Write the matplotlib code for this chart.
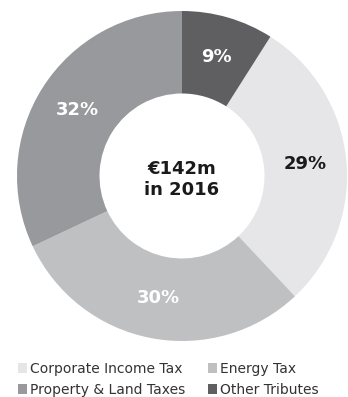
import matplotlib
matplotlib.use("Agg")
import matplotlib.pyplot as plt
from matplotlib.patches import Patch

categories = ["Corporate Income Tax", "Energy Tax", "Property & Land Taxes", "Other Tributes"]
shares = [29, 30, 32, 9]
colors = ["#e6e6e8", "#bfc0c2", "#98999c", "#5f5f62"]
label_colors = ["#1a1a1a", "white", "white", "white"]
center_text = "€142m\nin 2016"

plt.rcParams["font.family"] = ["DejaVu Sans"]

fig = plt.figure(figsize=(3.48, 3.97), dpi=100)
ax = fig.add_axes([17 / 348, 1 - 341 / 397, 330 / 348, 330 / 397])

start = 90 - shares[-1] / sum(shares) * 360
wedges, texts, autotexts = ax.pie(
    shares,
    colors=colors,
    startangle=start,
    counterclock=False,
    radius=1.0,
    wedgeprops=dict(width=0.5, edgecolor="none"),
    autopct=lambda p: f"{p:.0f}%",
    pctdistance=0.75,
    textprops=dict(fontsize=13, fontweight="bold"),
)
for t, c in zip(autotexts, label_colors):
    t.set_color(c)

ax.text(0, -0.02, center_text, ha="center", va="center", fontsize=13,
        fontweight="bold", color="#1a1a1a", linespacing=1.2)
ax.set_xlim(-1, 1)
ax.set_ylim(-1, 1)
ax.set_aspect("equal")
ax.axis("off")

# legend filled row by row: two entries per row
order = [0, 2, 1, 3]
handles = [Patch(facecolor=colors[i], edgecolor="none") for i in order]
labels = [categories[i] for i in order]
fig.legend(handles, labels, ncol=2, loc="upper left",
           bbox_to_anchor=(8 / 348, 1 - 352 / 397), frameon=False,
           fontsize=10, handlelength=0.7, handleheight=0.7, handletextpad=0.2,
           columnspacing=1.6, labelspacing=0.5, borderpad=0.2,
           labelcolor="#333333")

fig.savefig("out.png", dpi=100)
